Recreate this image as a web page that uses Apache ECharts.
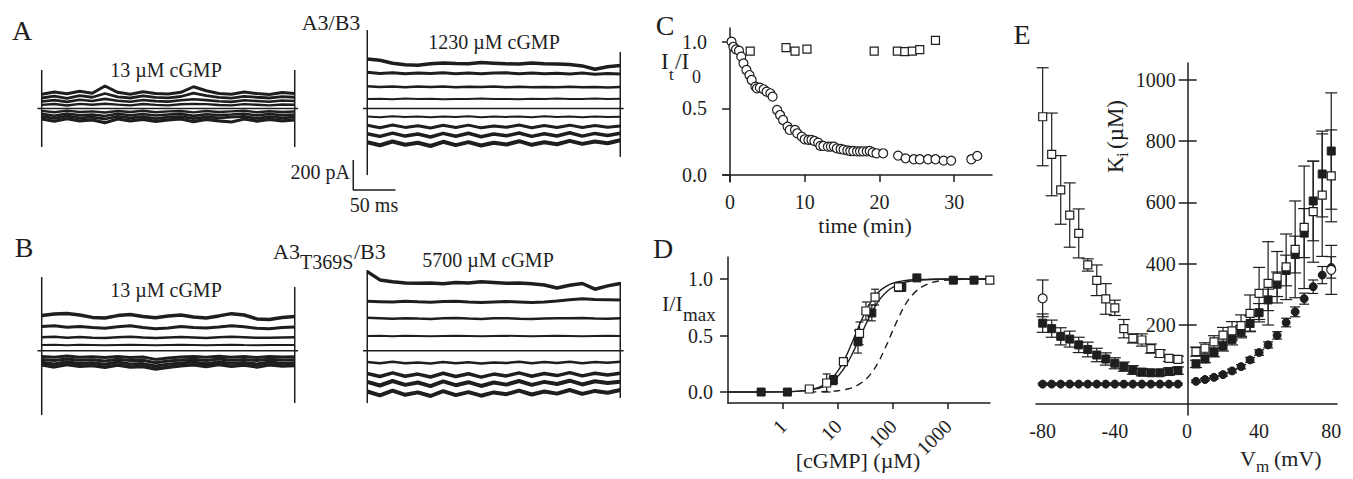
<!DOCTYPE html>
<html><head><meta charset="utf-8">
<script src="https://cdn.jsdelivr.net/npm/echarts@6/dist/echarts.min.js"></script>
<style>html,body{margin:0;padding:0;background:#fff}#c{width:1353px;height:479px}</style>
</head><body><div id="c"></div>
<script>
// ---------------- DATA ----------------
// Panels A/B: current traces (pA) sampled every 15 ms over a 300 ms sweep
const sweepTimes = [0,15,30,45,60,75,90,105,120,135,150,165,180,195,210,225,240,255,270,285,300];
const sweepMarkerTimes = [0, 300];
const baselineTimes = [-5, 304];
const traceA13 = [
 [95,110,98,115,102,150,108,95,112,100,96,108,145,118,100,95,110,100,94,106,100],
 [70,82,68,86,75,100,78,70,84,74,71,80,102,86,74,69,81,75,70,79,75],
 [47,56,44,58,50,64,52,45,57,49,46,55,62,56,48,44,55,50,45,53,50],
 [24,30,20,31,25,32,26,21,30,24,21,28,31,29,23,21,29,25,21,27,25],
 [-16,-25,-14,-23,-19,-27,-17,-23,-15,-25,-19,-17,-26,-17,-23,-19,-15,-25,-18,-23,-20],
 [-36,-48,-33,-45,-40,-50,-35,-45,-37,-47,-40,-36,-49,-38,-44,-40,-35,-46,-37,-44,-40],
 [-53,-66,-50,-63,-58,-70,-52,-63,-55,-67,-58,-54,-68,-56,-63,-58,-53,-66,-55,-63,-58],
 [-70,-85,-68,-82,-76,-95,-70,-82,-73,-86,-76,-70,-88,-73,-82,-90,-70,-84,-73,-82,-76]
];
const traceA1230 = [
 [330,322,302,292,288,298,304,300,298,306,302,298,296,303,299,297,294,284,262,278,286],
 [242,234,238,231,237,233,239,232,237,231,236,238,232,237,231,235,230,236,229,234,230],
 [148,144,147,142,146,143,147,141,145,143,146,142,145,141,144,142,145,141,144,140,143],
 [63,65,62,66,63,65,62,64,63,66,63,64,62,65,63,66,64,63,66,64,65],
 [-53,-58,-52,-57,-54,-59,-53,-57,-52,-58,-54,-56,-53,-58,-52,-57,-54,-58,-53,-57,-55],
 [-112,-128,-110,-126,-115,-130,-112,-127,-111,-129,-116,-125,-110,-128,-113,-126,-111,-127,-114,-125,-117],
 [-168,-186,-164,-184,-170,-190,-166,-185,-165,-188,-170,-182,-163,-186,-168,-183,-162,-184,-166,-180,-165],
 [-225,-245,-220,-242,-228,-250,-222,-244,-224,-247,-228,-240,-218,-242,-225,-238,-216,-236,-220,-232,-212]
];
const traceB13 = [
 [235,245,248,238,222,218,234,242,228,220,232,238,224,218,232,247,238,212,208,222,228],
 [162,167,157,161,154,149,159,166,154,147,152,161,154,151,158,166,160,149,147,155,158],
 [90,93,87,91,87,84,89,93,88,85,88,91,88,85,89,93,90,86,86,88,90],
 [38,40,37,39,38,36,38,40,38,36,38,40,38,36,38,40,38,37,38,38,38],
 [-38,-44,-36,-43,-40,-46,-38,-45,-42,-58,-48,-42,-38,-44,-37,-43,-39,-45,-38,-42,-40],
 [-58,-66,-55,-64,-60,-68,-57,-66,-64,-80,-68,-62,-57,-65,-56,-63,-58,-66,-57,-62,-60],
 [-77,-88,-74,-85,-80,-90,-76,-88,-86,-102,-90,-82,-76,-87,-75,-84,-78,-88,-76,-83,-80],
 [-94,-108,-92,-104,-98,-110,-95,-108,-105,-122,-110,-100,-94,-106,-92,-103,-96,-108,-94,-102,-98]
];
const traceB5700 = [
 [527,472,460,452,449,452,447,455,452,460,455,449,452,447,438,418,436,448,410,432,448],
 [330,327,324,330,326,323,328,330,325,321,325,328,325,321,325,332,340,346,342,340,338],
 [220,217,213,217,214,212,216,218,214,212,216,217,213,211,215,217,216,218,214,213,216],
 [98,99,97,99,98,97,98,99,98,97,98,99,98,97,98,99,98,97,98,99,98],
 [-76,-84,-74,-83,-78,-85,-75,-84,-77,-86,-78,-82,-74,-84,-76,-82,-73,-83,-75,-80,-73],
 [-152,-172,-148,-170,-156,-175,-150,-172,-154,-176,-156,-168,-148,-170,-152,-166,-146,-168,-150,-162,-151],
 [-208,-232,-202,-228,-212,-236,-205,-230,-210,-235,-212,-226,-202,-228,-208,-222,-200,-225,-204,-216,-207],
 [-272,-298,-266,-294,-278,-302,-270,-296,-276,-300,-278,-290,-266,-292,-272,-286,-262,-288,-268,-280,-262]
];
// sweep start/end artefacts (pA): [low, high] at sweepMarkerTimes
const markerA13 = [[-257,257],[-257,257]];
const markerA1230 = [[-444,523],[-323,377]];
const markerB13 = [[-429,491],[-349,425]];
const markerB5700 = [[-349,538],[-315,458]];
const scaleBarMs = 50, scaleBarPA = 200;

// Panel C: It/I0 vs time (min)
const cCircleTime = [0.2,0.45,0.8,1.2,1.5,1.8,2.2,2.6,2.9,3.4,3.6,4.0,4.5,4.9,5.4,5.7,6.3,6.7,7.1,7.7,8.0,8.7,9.0,9.6,10.0,10.5,10.9,11.3,11.8,12.1,12.5,13.1,13.5,13.9,14.3,14.8,15.2,15.7,16.1,16.5,17.0,17.4,17.8,18.3,18.7,19.1,19.6,20.5,22.5,23.5,24.6,25.4,26.5,27.5,28.6,29.6,32.3,33.1];
const cCircleValue = [1.0,0.962,0.943,0.933,0.888,0.838,0.788,0.75,0.713,0.663,0.65,0.655,0.643,0.625,0.613,0.588,0.488,0.45,0.413,0.363,0.338,0.338,0.313,0.288,0.268,0.263,0.263,0.255,0.243,0.218,0.218,0.213,0.213,0.213,0.2,0.195,0.19,0.185,0.18,0.18,0.178,0.178,0.178,0.178,0.18,0.17,0.163,0.163,0.145,0.125,0.118,0.118,0.118,0.118,0.108,0.108,0.118,0.143];
const cSquareTime = [2.7,7.5,8.7,10.3,19.3,22.4,23.4,24.4,25.4,27.5];
const cSquareValue = [0.93,0.955,0.93,0.945,0.93,0.93,0.925,0.93,0.94,1.01];
const cTicksX = [0,10,20,30];
const cTicksY = [0,0.5,1.0];

// Panel D: I/Imax vs [cGMP] (µM)
const dConcFilled = [0.4,1.2,8.2,23,41,144,270,1240,2950];
const dIFilled = [0.0,0.0,0.106,0.445,0.70,0.926,1.01,0.99,0.99];
const dErrFilled = [0.01,0.01,0.04,0.1,0.07,0.03,0.01,0.01,0.01];
const dConcOpen = [3.0,6.2,12.5,24.5,32,47,125,5700];
const dIOpen = [0.027,0.08,0.27,0.52,0.717,0.84,0.93,0.99];
const dErrOpen = [0.02,0.08,0.03,0.1,0.08,0.07,0.04,0.01];
const dCurveConc = [0.1,1,2,3,4,5,6,8,10,12,15,18,20,25,30,35,40,50,60,80,100,150,200,300,500,1000,5750];
const dCurveOpen = [0,0.002,0.008,0.019,0.034,0.053,0.075,0.128,0.189,0.253,0.349,0.438,0.492,0.606,0.691,0.755,0.802,0.865,0.904,0.944,0.964,0.984,0.991,0.996,0.999,1.0,1.0];
const dCurveFilled = [0,0.002,0.008,0.017,0.028,0.042,0.059,0.097,0.142,0.189,0.262,0.336,0.382,0.485,0.571,0.641,0.696,0.778,0.833,0.896,0.929,0.966,0.980,0.991,0.996,0.999,1.0];
const dDashConc = [3,5,10,15,20,30,40,50,60,80,100,150,200,300,500,1000,2000,5750];
const dDashValue = [0.001,0.003,0.012,0.027,0.047,0.1,0.165,0.236,0.308,0.441,0.552,0.735,0.832,0.917,0.969,0.992,0.998,1.0];
const dTicksX = [1,10,100,1000];
const dTicksY = [0,0.5,1.0];

// Panel E: Ki (µM) vs Vm (mV)
const eVm = [-80,-75,-70,-65,-60,-55,-50,-45,-40,-35,-30,-25,-20,-15,-10,-5,5,10,15,20,25,30,35,40,45,50,55,60,65,70,75,80];
const eKiFilledCircle = [7,7,7,7,7,7,7,7,7,7,7,7,7,7,7,7,16,22,29,38,50,64,86,110,135,166,208,243,286,325,363,388];
const eErrFilledCircle = [3,3,3,3,3,3,3,3,3,3,3,3,3,3,3,3,4,4,5,5,6,7,8,9,10,12,14,16,18,22,28,35];
const eKiFilledSquare = [206,188,163,154,135,120,102,89,75,64,53,46,44,44,48,51,73,89,110,131,153,178,205,240,282,333,378,430,500,605,693,768];
const eErrFilledSquare = [30,28,28,26,25,24,22,20,18,15,14,12,10,10,12,12,12,12,14,16,18,20,25,30,35,40,50,60,80,130,140,190];
const eKiOpenSquare = [880,757,641,559,499,396,346,285,256,188,156,151,123,107,91,88,113,124,145,167,181,198,238,303,336,356,390,447,519,570,624,687];
const eErrOpenSquare = [160,135,112,105,80,20,50,50,25,30,15,20,15,12,10,10,15,18,20,25,30,35,60,85,136,84,107,158,200,165,200,150];
const eVmOpenCircle = [-80,80];
const eKiOpenCircle = [287,380];
const eErrOpenCircle = [60,80];
const eTicksX = [-80,-40,0,40,80];
const eTicksY = [200,400,600,800,1000];

// ---------------- STYLE / HELPERS ----------------
const INK = '#1e1e1e';
const FF = '"Liberation Serif","Times New Roman",serif';
const chart = echarts.init(document.getElementById('c'), null, {renderer:'svg'});

function lineS(gi, pts, width, extra) {
  return Object.assign({type:'line', xAxisIndex:gi, yAxisIndex:gi, data:pts, symbol:'none', showSymbol:false,
    silent:true, clip:false, lineStyle:{color:INK, width:width}, z:2}, extra||{});
}
function traceSeries(gi, traces, widths, markers) {
  const out = traces.map((v,k)=>lineS(gi, sweepTimes.map((t,i)=>[t,v[i]]), widths[k]));
  out.push(lineS(gi, baselineTimes.map(t=>[t,0]), 1.6));
  markers.forEach((m,k)=>out.push(lineS(gi, [[sweepMarkerTimes[k],m[0]],[sweepMarkerTimes[k],m[1]]], 1.5)));
  return out;
}
function errorBars(xi, yi, xs, ys, es, cap, z) {
  return {type:'custom', xAxisIndex:xi, yAxisIndex:yi, silent:true, clip:false, z:z||3,
    data: xs.map((x,i)=>[x, ys[i], es[i]]),
    renderItem(params, api) {
      const x = api.value(0), y = api.value(1), e = api.value(2);
      const top = api.coord([x, y+e]), bot = api.coord([x, y-e]);
      const h = cap/2, st = {stroke:INK, lineWidth:1.2};
      return {type:'group', children:[
        {type:'line', shape:{x1:top[0],y1:top[1],x2:bot[0],y2:bot[1]}, style:st},
        {type:'line', shape:{x1:top[0]-h,y1:top[1],x2:top[0]+h,y2:top[1]}, style:st},
        {type:'line', shape:{x1:bot[0]-h,y1:bot[1],x2:bot[0]+h,y2:bot[1]}, style:st}
      ]};
    }};
}
function marks(xi, yi, xs, ys, symbol, size, filled, z) {
  return {type:'scatter', xAxisIndex:xi, yAxisIndex:yi, data:xs.map((x,i)=>[x,ys[i]]), symbol:symbol, symbolSize:size,
    silent:true, clip:false, z:z||5,
    itemStyle: filled ? {color:INK, borderColor:INK, borderWidth:1, opacity:1} : {color:'#fff', borderColor:INK, borderWidth:1.2, opacity:1}};
}
function T(x, y, text, size, align) {
  return {type:'text', x:x, y:y, silent:true, z:100,
    style:{text:text, font: size+'px '+FF, fill:INK, align:align||'center', verticalAlign:'middle'}};
}
const lbl = {color:INK, fontFamily:FF, fontSize:20};
const axLine = {show:true, lineStyle:{color:INK, width:1.5}};
const tickSt = {color:INK, width:1.5};
function hiddenAxis(gi, min, max) { return {type:'value', gridIndex:gi, min:min, max:max, show:false}; }

// ---------------- SERIES ----------------
const series = [];
series.push(...traceSeries(0, traceA13, [3,2.8,2.6,2.4,2.4,2.6,2.8,3.2], markerA13));
series.push(...traceSeries(1, traceA1230, [3.5,3,2.5,2,2,3,3.5,4], markerA1230));
series.push(...traceSeries(2, traceB13, [3.5,3,2.5,2,3,3,3,3.5], markerB13));
series.push(...traceSeries(3, traceB5700, [3.5,3,2.5,2,2.5,3.5,4,4], markerB5700));
// scale bar (drawn in A-right axes)
const sbOrigin = [-16.6, -543];
series.push(lineS(1, [[sbOrigin[0], sbOrigin[1]+scaleBarPA],[sbOrigin[0], sbOrigin[1]],[sbOrigin[0]+scaleBarMs, sbOrigin[1]]], 1.5));

// C
series.push(marks(4,4,cSquareTime,cSquareValue,'rect',8,false));
series.push(marks(4,4,cCircleTime,cCircleValue,'circle',9,false));

// D
series.push(lineS(5, dCurveConc.map((c,i)=>[c,dCurveOpen[i]]), 1.4, {smooth:0.3}));
series.push(lineS(5, dCurveConc.map((c,i)=>[c,dCurveFilled[i]]), 1.4, {smooth:0.3}));
series.push(lineS(5, dDashConc.map((c,i)=>[c,dDashValue[i]]), 1.4, {smooth:0.3, lineStyle:{color:INK,width:1.4,type:[7,5]}}));
series.push(errorBars(5,5,dConcFilled,dIFilled,dErrFilled,8,3));
series.push(errorBars(5,5,dConcOpen,dIOpen,dErrOpen,8,3));
series.push(marks(5,5,dConcFilled,dIFilled,'rect',8,true,5));
series.push(marks(5,5,dConcOpen,dIOpen,'rect',8,false,6));

// E
series.push(errorBars(6,6,eVm,eKiFilledCircle,eErrFilledCircle,10,3));
series.push(errorBars(6,6,eVm,eKiFilledSquare,eErrFilledSquare,12,3));
series.push(errorBars(6,6,eVm,eKiOpenSquare,eErrOpenSquare,12,3));
series.push(errorBars(6,6,eVmOpenCircle,eKiOpenCircle,eErrOpenCircle,12,3));
series.push(marks(6,6,eVm,eKiFilledCircle,'circle',8,true,5));
series.push(marks(6,6,eVm,eKiFilledSquare,'rect',8,true,5));
series.push(marks(6,6,eVm,eKiOpenSquare,'rect',8,false,6));
series.push(marks(6,6,eVmOpenCircle,eKiOpenCircle,'circle',9,false,6));

// ---------------- OPTION ----------------
const E_LEFT = 1036, E_WIDTH = 301, E_ZERO_X = 1187.7;
const option = {
  animation:false,
  backgroundColor:'#fff',
  grid:[
    {left:33.27, top:18.5, width:269.9, height:180, outerBoundsMode:'none'},
    {left:350.4, top:18.5, width:278.3, height:180, outerBoundsMode:'none'},
    {left:33.27, top:260.7, width:269.9, height:180, outerBoundsMode:'none'},
    {left:350.4, top:260.7, width:278.3, height:180, outerBoundsMode:'none'},
    {left:723, top:28, width:269, height:154, outerBoundsMode:'none'},
    {left:728, top:257, width:262, height:146, outerBoundsMode:'none'},
    {left:E_LEFT, top:63, width:E_WIDTH, height:352, outerBoundsMode:'none'}
  ],
  xAxis:[
    hiddenAxis(0,-10,310), hiddenAxis(1,-20,310), hiddenAxis(2,-10,310), hiddenAxis(3,-20,310),
    {type:'value', gridIndex:4, min:-0.94, max:35.07, axisLine:Object.assign({onZero:true}, axLine),
      axisTick:{show:true, customValues:cTicksX, length:7, lineStyle:tickSt},
      axisLabel:Object.assign({customValues:cTicksX, margin:10}, lbl), splitLine:{show:false}},
    {type:'log', gridIndex:5, logBase:10, min:0.1, max:5750, axisLine:Object.assign({onZero:false}, axLine),
      axisTick:{show:true, customValues:dTicksX, length:6, lineStyle:tickSt},
      axisLabel:Object.assign({customValues:dTicksX, rotate:45, margin:20, formatter:v=>String(Math.round(v))}, lbl),
      splitLine:{show:false}, minorTick:{show:false}},
    {type:'value', gridIndex:6, min:-83.7, max:83.2, offset:-11, axisLine:Object.assign({onZero:false}, axLine),
      axisTick:{show:false},
      axisLabel:Object.assign({customValues:eTicksX, margin:17}, lbl), splitLine:{show:false}}
  ],
  yAxis:[
    hiddenAxis(0,-600,600), hiddenAxis(1,-600,600), hiddenAxis(2,-600,600), hiddenAxis(3,-600,600),
    {type:'value', gridIndex:4, min:-0.0525, max:1.103, axisLine:Object.assign({onZero:true}, axLine),
      axisTick:{show:true, customValues:cTicksY, length:8, lineStyle:tickSt},
      axisLabel:Object.assign({customValues:cTicksY, margin:16, formatter:v=>v.toFixed(1)}, lbl), splitLine:{show:false}},
    {type:'value', gridIndex:5, min:-0.097, max:1.195, axisLine:Object.assign({onZero:false}, axLine),
      axisTick:{show:true, customValues:dTicksY, length:8, lineStyle:tickSt},
      axisLabel:Object.assign({customValues:dTicksY, margin:15, formatter:v=>v.toFixed(1)}, lbl), splitLine:{show:false}},
    {type:'value', gridIndex:6, position:'left', offset:-(E_ZERO_X-E_LEFT), min:-93.9, max:1055.5,
      axisLine:Object.assign({onZero:false}, axLine),
      axisTick:{show:true, customValues:eTicksY, length:9, lineStyle:tickSt},
      axisLabel:Object.assign({customValues:eTicksY, margin:12, formatter:v=>String(v)}, lbl), splitLine:{show:false}},
    {type:'value', gridIndex:6, position:'right', offset:-(E_LEFT+E_WIDTH-E_ZERO_X), min:-93.9, max:1055.5,
      axisLine:{show:false, onZero:false},
      axisTick:{show:true, customValues:eTicksY, length:9, lineStyle:tickSt},
      axisLabel:{show:false}, splitLine:{show:false}}
  ],
  series: series,
  graphic:[
    T(22,30,'A',28), T(24,247,'B',28), T(665,25,'C',28), T(663,248,'D',28), T(1022,34,'E',28),
    T(331,22,'A3/B3',22),
    T(166,70,'13 µM cGMP',20), T(494,42,'1230 µM cGMP',20),
    T(350,172,'200 pA',20,'right'), T(374,205,'50 ms',20),
    T(273,251,'A3',22,'left'), T(300,262,'T369S',20,'left'), T(354,251,'/B3',22,'left'),
    T(166,290,'13 µM cGMP',20), T(488,260,'5700 µM cGMP',20),
    T(661,61,'I',23,'left'), T(669,74,'t',17,'left'), T(675,61,'/I',23,'left'), T(692,77,'0',18,'left'),
    T(865,225,'time (min)',22),
    T(662,303,'I/I',22,'left'), T(683,314,'max',19,'left'),
    T(858,460,'[cGMP] (µM)',22),
    {type:'group', x:1115, y:134, rotation:Math.PI/2, children:[
      T(-39,0,'K',23,'left'), T(-23,7,'i',17,'left'), T(-15,0,'(µM)',23,'left')
    ]},
    T(1240,458,'V',22,'left'), T(1256,466,'m',17,'left'), T(1274,458,'(mV)',22,'left')
  ]
};
chart.setOption(option);
</script>
</body></html>
